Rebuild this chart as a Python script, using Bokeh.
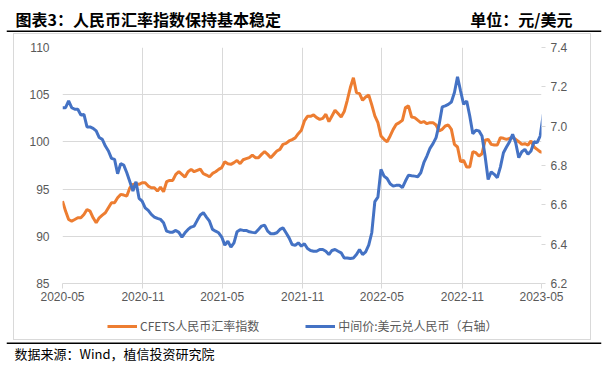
import pandas as pd
from bokeh.plotting import figure
from bokeh.layouts import column, row
from bokeh.models import (Range1d, LinearAxis, FixedTicker, DatetimeTickFormatter,
                          PrintfTickFormatter, Legend, LegendItem, Label, Span, Spacer)
from bokeh.embed import file_html
from bokeh.resources import INLINE

# ---------------- data (weekly) ----------------
start_date = "2020-05-01"

cfets = [
    93.73, 92.67, 91.78, 91.61, 91.78, 91.96, 91.96, 92.31, 92.84, 92.67,
    91.96, 91.43, 91.96, 92.24, 92.49, 93.02, 93.55, 93.55, 94.08, 94.44,
    94.37, 94.26, 95.14, 95.50, 95.57, 95.50, 95.67, 95.67, 95.32, 95.14,
    95.14, 94.79, 95.21, 94.72, 95.78, 95.92, 95.92, 96.56, 96.84, 96.56,
    96.28, 96.84, 97.09, 96.84, 96.98, 97.12, 96.63, 96.49, 96.31, 96.66,
    96.84, 97.09, 97.27, 97.90, 97.69, 97.62, 97.80, 98.04, 97.69, 98.11,
    98.22, 98.33, 98.61, 98.33, 98.33, 98.68, 98.96, 98.68, 98.33, 98.68,
    99.03, 99.21, 99.74, 99.85, 100.10, 100.24, 100.42, 100.87, 101.23, 102.22,
    102.71, 102.71, 102.85, 102.57, 102.39, 102.50, 102.93, 102.15, 102.75, 103.35,
    103.00, 102.64, 103.21, 104.41, 105.76, 106.80, 105.22, 105.12, 104.41, 104.76,
    104.98, 103.92, 102.75, 102.04, 100.63, 100.27, 100.02, 100.63, 101.33, 101.86,
    102.04, 102.29, 103.63, 103.81, 102.64, 102.57, 102.30, 102.04, 102.15, 101.93,
    102.04, 102.04, 101.79, 101.16, 101.33, 101.69, 101.79, 101.33, 99.74, 99.46,
    97.90, 98.04, 97.34, 97.34, 98.96, 98.86, 98.50, 98.75, 100.17, 100.27,
    99.74, 99.67, 99.67, 100.45, 100.38, 100.27, 100.38, 100.45, 100.27, 100.02,
    99.74, 99.81, 99.67, 100.10, 99.46, 99.21, 98.96, 98.86,
]

usdcny = [
    7.094, 7.094, 7.128, 7.094, 7.086, 7.086, 7.057, 7.060, 6.996, 6.996,
    6.989, 6.976, 6.942, 6.933, 6.899, 6.874, 6.836, 6.831, 6.758, 6.809,
    6.802, 6.763, 6.717, 6.670, 6.717, 6.633, 6.619, 6.585, 6.572, 6.551,
    6.538, 6.531, 6.526, 6.509, 6.466, 6.461, 6.461, 6.470, 6.460, 6.436,
    6.458, 6.475, 6.487, 6.492, 6.521, 6.548, 6.560, 6.538, 6.517, 6.475,
    6.466, 6.458, 6.436, 6.395, 6.415, 6.385, 6.407, 6.463, 6.473, 6.470,
    6.470, 6.463, 6.460, 6.458, 6.475, 6.492, 6.497, 6.466, 6.453, 6.453,
    6.458, 6.475, 6.483, 6.458, 6.432, 6.398, 6.394, 6.407, 6.390, 6.402,
    6.378, 6.368, 6.364, 6.364, 6.373, 6.373, 6.364, 6.347, 6.368, 6.373,
    6.364, 6.356, 6.330, 6.330, 6.327, 6.330, 6.347, 6.373, 6.347, 6.361,
    6.395, 6.458, 6.616, 6.639, 6.780, 6.746, 6.734, 6.707, 6.695, 6.699,
    6.700, 6.687, 6.721, 6.751, 6.748, 6.746, 6.743, 6.763, 6.814, 6.848,
    6.887, 6.911, 6.942, 7.009, 7.098, 7.103, 7.111, 7.123, 7.171, 7.251,
    7.179, 7.111, 7.128, 7.052, 6.962, 6.979, 6.976, 6.950, 6.848, 6.729,
    6.768, 6.755, 6.738, 6.792, 6.865, 6.894, 6.921, 6.959, 6.916, 6.840,
    6.870, 6.882, 6.857, 6.874, 6.921, 6.916, 6.950, 7.060,
]

x_tick_labels = ["2020-05", "2020-11", "2021-05", "2021-11", "2022-05", "2022-11", "2023-05"]
left_ticks = [85, 90, 95, 100, 105, 110]
right_ticks = [6.2, 6.4, 6.6, 6.8, 7.0, 7.2, 7.4]

title_text = "图表3：人民币汇率指数保持基本稳定"
unit_text = "单位：元/美元"
source_text = "数据来源：Wind，植信投资研究院"
name_cfets = "CFETS人民币汇率指数"
name_usd = "中间价:美元兑人民币（右轴）"

dates = pd.date_range(start_date, periods=len(cfets), freq="7D")

ORANGE = "#ED7D31"
BLUE = "#4472C4"
GRID = "#D9D9D9"
TXT = "#595959"
CJK = "Noto Sans CJK SC"
PAGE_W = 614


def blank_fig(width, height, left, right, x_range=None, y_range=None, x_axis_type="linear"):
    f = figure(width=width, height=height, output_backend="svg", toolbar_location=None,
               x_axis_location=None, y_axis_location=None, x_axis_type=x_axis_type,
               min_border_left=left, min_border_right=right,
               min_border_top=0, min_border_bottom=0,
               x_range=x_range or Range1d(0, 1), y_range=y_range or Range1d(0, height))
    f.outline_line_color = None
    f.grid.visible = False
    f.background_fill_color = None
    f.border_fill_color = None
    return f


# ---------------- header ----------------
HDR_H = 33
hdr = blank_fig(PAGE_W, HDR_H, 6, 11)
hdr.add_layout(Span(location=HDR_H - 30.7, dimension="width", line_color="black", line_width=1.5))
hdr.add_layout(Label(x=9, y=HDR_H - 18.5, x_units="screen", y_units="screen", text=title_text,
                     text_font=CJK, text_font_size="16px", text_font_style="bold",
                     text_color="black", text_align="left", text_baseline="middle"))
hdr.add_layout(Label(x=566, y=HDR_H - 18.5, x_units="screen", y_units="screen", text=unit_text,
                     text_font=CJK, text_font_size="16px", text_font_style="bold",
                     text_color="black", text_align="right", text_baseline="middle"))

# ---------------- main chart ----------------
MW, MH = 578, 274
p = figure(x_axis_type="datetime", output_backend="svg", toolbar_location=None,
           width=MW, height=MH,
           min_border_left=49, min_border_top=14,
           min_border_right=50, min_border_bottom=24,
           x_range=Range1d(pd.Timestamp(x_tick_labels[0] + "-01"),
                           pd.Timestamp(x_tick_labels[-1] + "-01")),
           y_range=Range1d(left_ticks[0], left_ticks[-1]))
p.outline_line_color = None
p.background_fill_color = None
p.border_fill_color = None
p.extra_y_ranges = {"usd": Range1d(right_ticks[0], right_ticks[-1])}

xt = [pd.Timestamp(s + "-01").value / 1e6 for s in x_tick_labels]
p.xaxis.ticker = FixedTicker(ticks=xt)
fmt = "%Y-%m"
p.xaxis.formatter = DatetimeTickFormatter(milliseconds=fmt, seconds=fmt, minsec=fmt, minutes=fmt,
                                          hourmin=fmt, hours=fmt, days=fmt, months=fmt, years=fmt)
p.xaxis.axis_line_color = GRID
p.xaxis.major_tick_line_color = GRID
p.xaxis.major_tick_out = 5
p.xaxis.major_tick_in = 0
p.xaxis.minor_tick_line_color = None
p.xaxis.major_label_standoff = 3

p.yaxis.ticker = FixedTicker(ticks=left_ticks)
p.yaxis.axis_line_color = None
p.yaxis.major_tick_line_color = None
p.yaxis.minor_tick_line_color = None
p.yaxis.major_label_standoff = 7

ry = LinearAxis(y_range_name="usd", ticker=FixedTicker(ticks=right_ticks),
                formatter=PrintfTickFormatter(format="%.1f"))
ry.axis_line_color = None
ry.major_tick_line_color = GRID
ry.major_tick_out = 4
ry.major_tick_in = 0
ry.minor_tick_line_color = None
ry.major_label_standoff = 5
p.add_layout(ry, "right")

for ax in [p.xaxis[0], p.yaxis[0], ry]:
    ax.major_label_text_font = "Liberation Sans"
    ax.major_label_text_font_size = "12px"
    ax.major_label_text_color = TXT

p.xgrid.grid_line_color = GRID
p.ygrid.grid_line_color = GRID

p.line(dates, cfets, line_color=ORANGE, line_width=3)
p.line(dates, usdcny, line_color=BLUE, line_width=3, y_range_name="usd")

# ---------------- legend strip (inside the grey box) ----------------
# Its ranges lie outside the series, so the series renderers here draw nothing
# visible and serve only as legend keys.
LG_H = 340 - 33 - MH
lf = blank_fig(MW, LG_H, 0, 0,
               x_range=Range1d(pd.Timestamp("1990-01-01"), pd.Timestamp("1990-01-02")),
               y_range=Range1d(0, 1), x_axis_type="datetime")
k1 = lf.line(dates, cfets, line_color=ORANGE, line_width=3)
k2 = lf.line(dates, usdcny, line_color=BLUE, line_width=3)
legend = Legend(items=[LegendItem(label=name_cfets, renderers=[k1]),
                       LegendItem(label=name_usd, renderers=[k2])],
                orientation="horizontal", location=(45, LG_H - 19 - 8),
                glyph_width=30, glyph_height=16, label_height=16, label_standoff=3,
                spacing=46, padding=0, margin=0,
                border_line_color=None, background_fill_alpha=0,
                label_text_font=CJK, label_text_font_size="12px", label_text_color=TXT)
lf.add_layout(legend, "center")

box = column(p, lf, styles={"outline": "1px solid #D9D9D9", "outline-offset": "-1px",
                            "background-color": "white"})
main_row = row(Spacer(width=13, height=MH + LG_H), box)

# ---------------- footer ----------------
FTR_H = 373 - 340
ftr = blank_fig(PAGE_W, FTR_H, 6, 13)
ftr.add_layout(Span(location=FTR_H - 2.7, dimension="width", line_color="black", line_width=1.5))
ftr.add_layout(Label(x=8, y=FTR_H - 12.7, x_units="screen", y_units="screen", text=source_text,
                     text_font=CJK, text_font_size="13px",
                     text_color="black", text_align="left", text_baseline="middle"))

layout = column(hdr, main_row, ftr)
open("out.html", "w").write(file_html(layout, INLINE))
